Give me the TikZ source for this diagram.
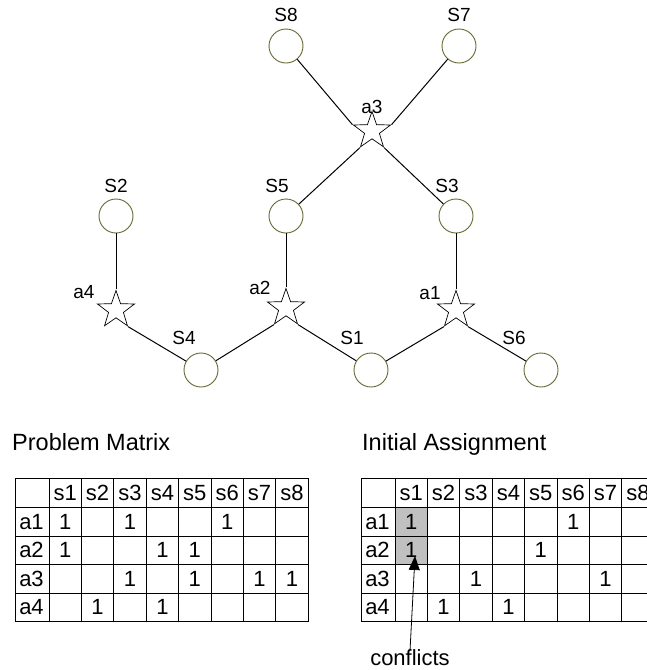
\documentclass[tikz,border=0pt]{standalone}
\usepackage{fontspec}
\setmainfont{Liberation Sans}
\usetikzlibrary{shapes.geometric,arrows.meta}
\definecolor{circline}{RGB}{102,102,51}
\definecolor{conflictgray}{RGB}{192,192,192}
\begin{document}
\begin{tikzpicture}[x=1pt,y=-1pt,
  statenode/.style={circle, draw=circline, fill=white, minimum size=34pt, inner sep=0pt, line width=0.9pt},
  agentnode/.style={star, star points=5, star point ratio=2.5, draw=black, fill=white, minimum size=39pt, inner sep=0pt, line width=0.7pt},
  lbl/.style={font=\fontsize{19}{21}\selectfont, inner sep=0pt},
  edge/.style={line width=1pt, draw=black},
  title/.style={font=\fontsize{23.5}{26}\selectfont, inner sep=0pt, anchor=base west},
  cell/.style={font=\fontsize{22}{24}\selectfont, inner sep=0pt},
  grid/.style={line width=1pt, draw=black}
]
\useasboundingbox (0,0) rectangle (647,670);
\clip (0,0) rectangle (647,670);

% ---------- graph ----------
\node[statenode] (S8) at (286,46) {};
\node[statenode] (S7) at (459,46) {};
\node[statenode] (S5) at (286,216) {};
\node[statenode] (S3) at (456,216) {};
\node[statenode] (S2) at (116,216) {};
\node[statenode] (S4) at (201,370) {};
\node[statenode] (S1) at (371,370) {};
\node[statenode] (S6) at (541,370) {};

\node[agentnode] (a3) at (372,131) {};
\node[agentnode] (a4) at (116,310) {};
\node[agentnode] (a2) at (286,308) {};
\node[agentnode] (a1) at (456,310) {};

\draw[edge] (S8) -- (a3.outer point 2);
\draw[edge] (S7) -- (a3.outer point 5);
\draw[edge] (a3.outer point 3) -- (S5);
\draw[edge] (a3.outer point 4) -- (S3);
\draw[edge] (S2) -- (a4.outer point 1);
\draw[edge] (a4.outer point 4) -- (S4);
\draw[edge] (S4) -- (a2.outer point 3);
\draw[edge] (S5) -- (a2.outer point 1);
\draw[edge] (a2.outer point 4) -- (S1);
\draw[edge] (S1) -- (a1.outer point 3);
\draw[edge] (S3) -- (a1.outer point 1);
\draw[edge] (a1.outer point 4) -- (S6);

\node[lbl] (lS8) at (286,15) {S8};
\node[lbl] (lS7) at (459,15) {S7};
\node[lbl] (la3) at (372,107) {a3};
\node[lbl] (lS5) at (277,186) {S5};
\node[lbl] (lS3) at (447,186) {S3};
\node[lbl] (lS2) at (116,186) {S2};
\node[lbl] (la4) at (84,292) {a4};
\node[lbl] (la2) at (260,288) {a2};
\node[lbl] (la1) at (430,293) {a1};
\node[lbl] (lS4) at (184,338) {S4};
\node[lbl] (lS1) at (352,338) {S1};
\node[lbl] (lS6) at (514,338) {S6};

% ---------- titles ----------
\node[title] (t1) at (12,450) {Problem Matrix};
\node[title] (t2) at (362,450) {Initial Assignment};

% ---------- tables ----------
% shaded conflict cells in table 2
\fill[conflictgray] (395,507.5) rectangle (427.4,564.5);

\foreach \ox in {0,346}{
  \draw[grid] (\ox+15,478) rectangle (\ox+308.2,621.5);
  \foreach \c in {1,...,8}{
    \draw[grid] ({\ox+49+(\c-1)*32.4},478) -- ({\ox+49+(\c-1)*32.4},621.5);
  }
  \foreach \y in {507.5,536,564.5,593}{
    \draw[grid] (\ox+15,\y) -- (\ox+308.2,\y);
  }
  \foreach \c in {1,...,8}{
    \node[cell] (h\ox-\c) at ({\ox+65.2+(\c-1)*32.4},492.75) {s\c};
  }
  \foreach \r/\y in {1/521.75,2/550.25,3/578.75,4/607.25}{
    \node[cell] (r\ox-\r) at (\ox+31.5,\y) {a\r};
  }
}

% entries of the problem matrix
\foreach \r/\c in {1/1,1/3,1/6,2/1,2/4,2/5,3/3,3/5,3/7,3/8,4/2,4/4}{
  \node[cell] (p-\r-\c) at ({65.2+(\c-1)*32.4},{521.75+(\r-1)*28.5}) {1};
}
% entries of the initial assignment
\foreach \r/\c in {1/1,1/6,2/1,2/5,3/3,3/7,4/2,4/4}{
  \node[cell] (i-\r-\c) at ({346+65.2+(\c-1)*32.4},{521.75+(\r-1)*28.5}) {1};
}

% ---------- conflicts arrow ----------
\node[cell, anchor=base] (conf) at (410,665) {conflicts};
\coordinate (tip) at (415,556);
\draw[line width=0.8pt, -{Triangle[length=14pt,width=11pt]}] ([yshift=-2pt]conf.north) -- (tip);
\end{tikzpicture}
\end{document}
